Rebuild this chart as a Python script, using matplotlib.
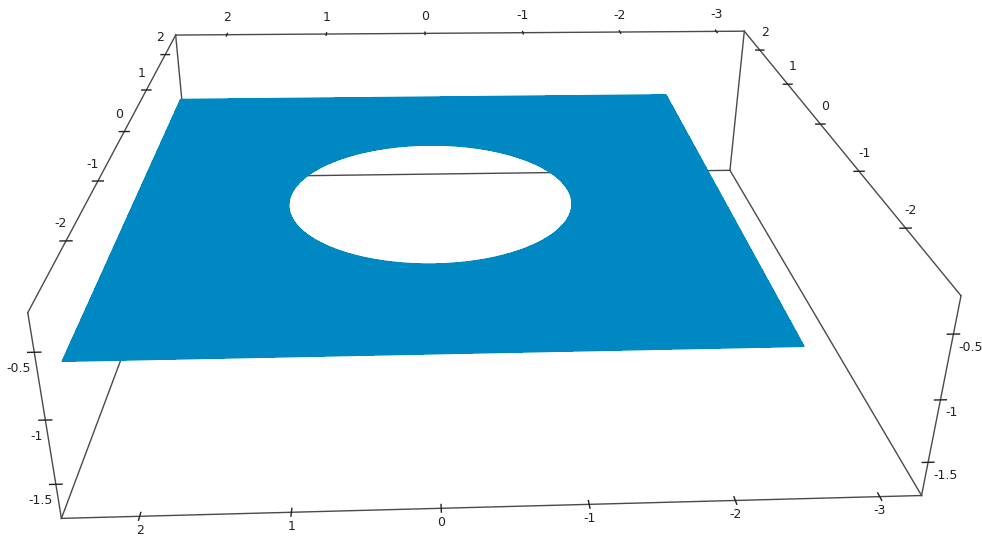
import numpy as np
import matplotlib
matplotlib.use("Agg")
import matplotlib.pyplot as plt
from matplotlib.transforms import offset_copy
from mpl_toolkits.mplot3d import proj3d

# axis ranges and ticks
x_range = [2.511, -3.292]    # left -> right on screen
y_range = [-2.973, 2.624]    # front -> back
z_range = [-1.776, -0.220]
x_ticks = [2, 1, 0, -1, -2, -3]
y_ticks = [2, 1, 0, -1, -2]
z_ticks = [-0.5, -1, -1.5]

# plane with circular hole
plane_x = [-2.5, 2.5]
plane_y = [-2.5, 2.5]
plane_z = -0.86
hole_center = [0.0, 0.0]
hole_radius = 1.2

blue = "#0088c2"
edge_col = "#4a4a4a"

W, H = 982, 540
fig = plt.figure(figsize=(W / 100, H / 100), dpi=100)
ax = fig.add_axes([-26.66 / W, (H - W) / 2 / H + 35.27 / H, 1, W / H], projection="3d")
ax.set_axis_off()
ax.computed_zorder = False
ax.view_init(25.533, -93.369, -0.613)
ax.set_proj_type("persp", focal_length=0.240)
ax.set_box_aspect((1, 0.973, 0.269), zoom=0.963)

xl, xr = x_range
yf, yb = y_range
zb, zt = z_range

# surface: strips from the hole edge out to the square border
ang = np.linspace(0, 2 * np.pi, 361)
ca, sa = np.cos(ang), np.sin(ang)
hx, hy = hole_center
with np.errstate(divide="ignore"):
    tx = np.where(ca > 0, (plane_x[1] - hx) / ca, (plane_x[0] - hx) / ca)
    ty = np.where(sa > 0, (plane_y[1] - hy) / sa, (plane_y[0] - hy) / sa)
dist = np.minimum(np.abs(tx), np.abs(ty))
t = np.array([0.0, 1.0])[:, None]
rad = hole_radius + t * (dist - hole_radius)
X = hx + rad * ca
Y = hy + rad * sa
Z = np.full_like(X, plane_z)
surf = ax.plot_surface(X, Y, Z, color=blue, shade=False, linewidth=0,
                       antialiased=False, rstride=1, cstride=1, zorder=2)
surf.set_clip_on(False)
# smooth outline for the hole and the outer border
for row in (0, 1):
    ax.plot(X[row], Y[row], Z[row], color=blue, lw=1, zorder=2, clip_on=False)

# box edges (no top-front edge)
back_edges = [((xl, yb, zb), (xl, yb, zt)), ((xl, yb, zb), (xr, yb, zb)),
              ((xl, yf, zb), (xl, yb, zb)), ((xr, yf, zb), (xr, yb, zb))]
front_edges = [((xl, yb, zt), (xr, yb, zt)), ((xl, yf, zt), (xl, yb, zt)),
               ((xr, yf, zt), (xr, yb, zt)), ((xr, yb, zb), (xr, yb, zt)),
               ((xl, yf, zb), (xl, yf, zt)), ((xr, yf, zb), (xr, yf, zt)),
               ((xl, yf, zb), (xr, yf, zb))]
for edges, zo in [(back_edges, 1), (front_edges, 3)]:
    for a, b in edges:
        ax.plot([a[0], b[0]], [a[1], b[1]], [a[2], b[2]], color=edge_col, lw=1,
                zorder=zo, clip_on=False)

ax.set_xlim(xl, xr)
ax.set_ylim(yf, yb)
ax.set_zlim(zb, zt)
M = ax.get_proj()


def tick(p, d, label, dx, dy, ha):
    # small cross mark on the edge, label placed from the projected point
    p = np.array(p, float)
    d = np.array(d, float)
    a, b = p - d, p + d
    ax.plot([a[0], b[0]], [a[1], b[1]], [a[2], b[2]], color="#222222", lw=1,
            zorder=3, clip_on=False)
    px, py, _ = proj3d.proj_transform(p[0], p[1], p[2], M)
    tr = offset_copy(ax.transData, fig=fig, x=dx, y=dy, units="dots")
    ax.text2D(px, py, label, transform=tr, ha=ha, va="center",
              fontsize=9, color="#222222", zorder=4, clip_on=False)


def fmt(v):
    return f"{v:g}"


for v in x_ticks:
    tick((v, yb, zt), (0, 0.04, 0), fmt(v), 0, 17, "center")
    tick((v, yf, zb), (0, 0.04, 0), fmt(v), 0, -14, "center")
for v in y_ticks:
    tick((xl, v, zt), (0.04, 0, 0), fmt(v), -5, 17, "center")
    tick((xr, v, zt), (0.04, 0, 0), fmt(v), 5, 18, "center")
for v in z_ticks:
    tick((xl, yf, v), (0.04, 0, 0), fmt(v), -3, -16, "right")
    tick((xr, yf, v), (0.04, 0, 0), fmt(v), 5, -13, "left")

ax.set_xlim(xl, xr)
ax.set_ylim(yf, yb)
ax.set_zlim(zb, zt)

fig.savefig("out.png", dpi=100)
